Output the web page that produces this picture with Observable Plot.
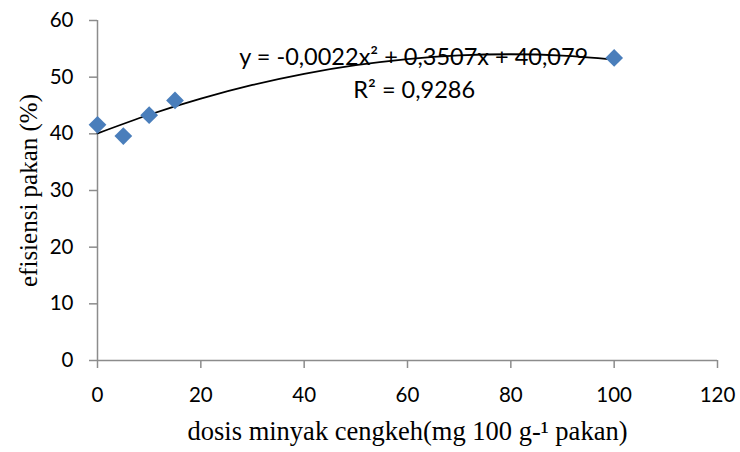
<!DOCTYPE html>
<html>
<head>
<meta charset="utf-8">
<script src="https://cdn.jsdelivr.net/npm/d3@7"></script>
<script src="https://cdn.jsdelivr.net/npm/@observablehq/plot@0.6"></script>
<style>
  html, body { margin: 0; padding: 0; background: #fff; }
  #chart svg { display: block; }
</style>
</head>
<body>
<div id="chart"></div>
<script>
// Observed points
const dose = [0, 5, 10, 15, 100];
const efficiency = [41.6, 39.6, 43.3, 45.9, 53.4];

// Polynomial trendline
const trendX = [0, 10, 20, 30, 40, 50, 60, 70, 80, 90, 100];
const trendY = [40.08, 43.37, 46.21, 48.62, 50.59, 52.11, 53.20, 53.84, 54.04, 53.80, 53.12];

// Tick values
const xTicks = [0, 20, 40, 60, 80, 100, 120];
const yTicks = [0, 10, 20, 30, 40, 50, 60];

// Annotation texts
const noteText = ["y = -0,0022x² + 0,3507x + 40,079", "R² = 0,9286"];
const noteX = [61.2, 61.3];
const noteY = [53.4, 47.6];

const points = dose.map((d, i) => ({x: d, y: efficiency[i]}));
const trend = trendX.map((d, i) => ({x: d, y: trendY[i]}));
const notes = noteText.map((t, i) => ({t, x: noteX[i], y: noteY[i]}));

const sans = "Lato, 'Open Sans', sans-serif";
const serif = "'Liberation Serif', 'Times New Roman', serif";
const axisColor = "#8c8c8c";

const chart = Plot.plot({
  width: 740,
  height: 452,
  marginLeft: 97,
  marginRight: 23,
  marginTop: 20,
  marginBottom: 92,
  style: {fontFamily: sans, fontSize: "20px", color: "#000", background: "#fff"},
  x: {domain: [0, 120]},
  y: {domain: [0, 60]},
  marks: [
    Plot.ruleX([0], {stroke: axisColor, strokeWidth: 1.5}),
    Plot.ruleY([0], {stroke: axisColor, strokeWidth: 1.5}),
    Plot.axisX({ticks: xTicks, tickSize: 8, tickPadding: 19, stroke: axisColor, strokeWidth: 1.5,
      fill: "#000", fontSize: 20.5, fontFamily: sans, label: null}),
    Plot.axisY({ticks: yTicks, tickSize: 8, tickPadding: 16, stroke: axisColor, strokeWidth: 1.5,
      fill: "#000", fontSize: 20.5, fontFamily: sans, label: null}),
    Plot.line(trend, {x: "x", y: "y", curve: "natural", stroke: "#000", strokeWidth: 1.8}),
    Plot.dot(points, {x: "x", y: "y", symbol: "diamond2", r: 8, fill: "#4a7ebb", stroke: "none"}),
    Plot.text(notes, {x: "x", y: "y", text: "t", fill: "#000", fontSize: 23.5, fontFamily: sans}),
    Plot.text(["dosis minyak cengkeh(mg 100 g-¹ pakan)"], {frameAnchor: "bottom", dy: 71, lineAnchor: "middle",
      textAnchor: "middle", fill: "#000", fontSize: 26.5, fontFamily: serif}),
    Plot.text(["efisiensi pakan (%)"], {frameAnchor: "left", dx: -69, rotate: -90, lineAnchor: "middle",
      textAnchor: "middle", fill: "#000", fontSize: 25, fontFamily: serif})
  ]
});
document.getElementById("chart").appendChild(chart);
</script>
</body>
</html>
